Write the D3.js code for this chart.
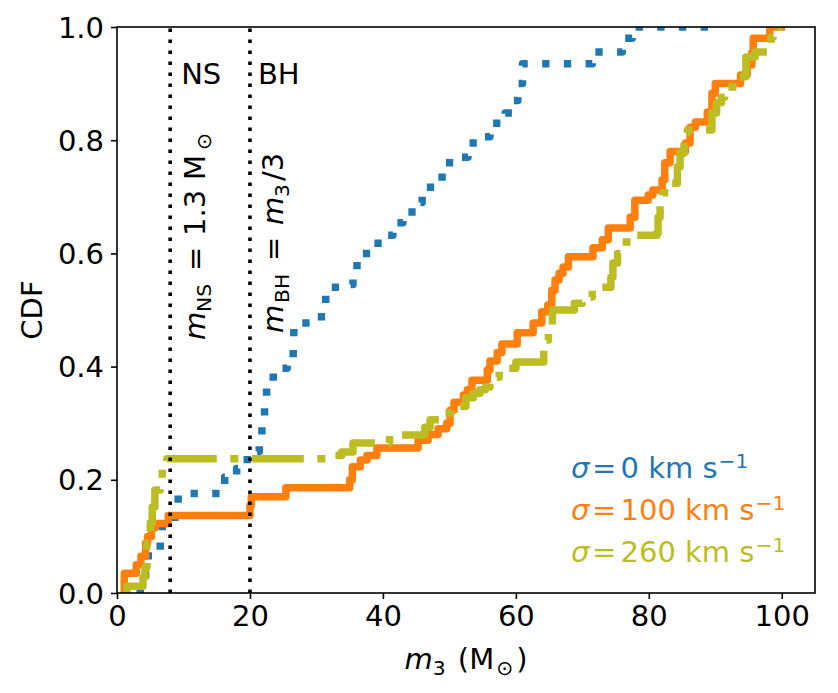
<!DOCTYPE html>
<html>
<head>
<meta charset="utf-8">
<script src="https://cdn.jsdelivr.net/npm/d3@7"></script>
<style>
  body { margin: 0; background: #fff; }
  svg { display: block; }
  text { font-family: "DejaVu Sans", sans-serif; fill: #000; }
</style>
</head>
<body>
<svg id="chart" width="838" height="693"></svg>
<script>
// ---- data ----
const xTicks = [0, 20, 40, 60, 80, 100];
const yTicks = [0, 0.2, 0.4, 0.6, 0.8, 1.0];
const vlineNS = 8;
const vlineBH = 20;

// sigma = 0 km/s (step rises at m3, new level cdf)
const m3Sigma0 = [3.2, 3.5, 4.3, 4.7, 6.5, 6.8, 8.7, 9.2, 16.2, 18.0, 19.6, 21.4, 21.8, 22.2, 22.5,
  23.5, 25.6, 26.5, 26.6, 29.0, 31.3, 31.4, 34.3, 35.5, 36.1, 38.1, 40.0, 41.5, 43.0, 45.3,
  45.9, 48.3, 48.9, 51.6, 52.8, 55.2, 56.1, 58.4, 59.6, 60.3, 61.0, 71.5, 76.0, 77.5, 89.0];
const cdfSigma0 = [0, 0.02, 0.05, 0.075, 0.09, 0.124, 0.141, 0.176, 0.205, 0.22, 0.25, 0.265, 0.30, 0.335, 0.372,
  0.397, 0.415, 0.44, 0.477, 0.488, 0.50, 0.54, 0.545, 0.567, 0.60, 0.618, 0.632, 0.654, 0.673, 0.69,
  0.717, 0.726, 0.76, 0.77, 0.795, 0.806, 0.83, 0.848, 0.87, 0.90, 0.935, 0.956, 0.98, 1.0, 1.0];

// sigma = 100 km/s
const m3Sigma100 = [1.0, 1.1, 2.9, 3.6, 4.3, 4.6, 5.2, 5.7, 7.7, 20.0, 20.2, 25.4, 35.0, 35.4, 36.6,
  37.6, 39.1, 45.3, 46.8, 48.3, 49.6, 50.1, 50.7, 52.1, 52.7, 53.4, 55.7, 56.1, 57.2, 57.9,
  60.2, 62.6, 63.9, 64.8, 65.4, 65.9, 66.5, 67.1, 67.9, 71.6, 73.0, 73.9, 77.2, 77.9, 79.9,
  80.6, 82.0, 82.4, 83.2, 85.5, 86.2, 87.0, 88.8, 89.5, 90.0, 93.8, 94.8, 95.5, 95.7, 98.2, 100.5];
const cdfSigma100 = [0, 0.035, 0.05, 0.065, 0.088, 0.10, 0.115, 0.123, 0.137, 0.155, 0.17, 0.186, 0.20, 0.223, 0.235,
  0.243, 0.256, 0.27, 0.28, 0.29, 0.30, 0.323, 0.337, 0.35, 0.359, 0.376, 0.394, 0.41, 0.425, 0.44,
  0.46, 0.477, 0.497, 0.509, 0.535, 0.553, 0.565, 0.576, 0.594, 0.61, 0.624, 0.645, 0.664, 0.694, 0.703,
  0.712, 0.73, 0.76, 0.78, 0.795, 0.823, 0.832, 0.85, 0.883, 0.90, 0.915, 0.933, 0.955, 0.98, 1.0, 1.0];

// sigma = 260 km/s
const m3Sigma260 = [1.2, 1.5, 3.9, 4.2, 4.5, 5.0, 5.3, 5.7, 6.5, 6.8, 7.5, 31.6, 33.8, 35.5, 41.0,
  46.3, 47.1, 49.0, 50.3, 52.5, 53.6, 54.6, 55.4, 56.1, 56.6, 57.5, 60.0, 64.2, 64.6, 64.9,
  65.5, 68.8, 70.0, 71.5, 74.3, 74.6, 75.3, 75.9, 78.0, 81.2, 81.4, 81.7, 82.1, 83.3, 84.3,
  84.7, 85.3, 85.8, 89.5, 90.2, 90.9, 91.4, 93.5, 94.6, 96.0, 97.8, 98.4, 98.7, 99.3, 100.0];
const cdfSigma260 = [0, 0.012, 0.028, 0.045, 0.088, 0.124, 0.152, 0.182, 0.194, 0.223, 0.237, 0.243, 0.249, 0.265, 0.279,
  0.293, 0.306, 0.318, 0.33, 0.345, 0.353, 0.359, 0.364, 0.371, 0.381, 0.397, 0.408, 0.43, 0.447, 0.473,
  0.50, 0.512, 0.523, 0.54, 0.558, 0.583, 0.60, 0.62, 0.632, 0.636, 0.664, 0.70, 0.707, 0.724, 0.753,
  0.777, 0.813, 0.818, 0.848, 0.866, 0.876, 0.894, 0.912, 0.947, 0.956, 0.963, 0.982, 0.995, 1.0, 1.0];

const legendLabels = ["0", "100", "260"];

// ---- layout ----
const padL = 117, padR = 815, padT = 27, padB = 593;
const fs = 29;
const fsSub = fs * 0.7;

const svg = d3.select("#chart");
const x = d3.scaleLinear().domain([0, 105]).range([padL, padR]);
const y = d3.scaleLinear().domain([0, 1]).range([padB, padT]);

svg.append("defs").append("clipPath").attr("id", "plotclip")
  .append("rect").attr("x", padL).attr("y", padT)
  .attr("width", padR - padL).attr("height", padB - padT);

const plot = svg.append("g").attr("clip-path", "url(#plotclip)");

const line = d3.line()
  .x(d => x(d[0]))
  .y(d => y(d[1]))
  .curve(d3.curveStepAfter);

const series = [
  {m: m3Sigma0, c: cdfSigma0, color: "#1f77b4", dash: "7.3,14.4"},
  {m: m3Sigma100, c: cdfSigma100, color: "#ff7f0e", dash: null},
  {m: m3Sigma260, c: cdfSigma260, color: "#bcbd22", dash: "52,13.5,8,13.5"}
];

series.forEach(s => {
  const pts = s.m.map((v, i) => [v, s.c[i]]);
  plot.append("path")
    .attr("d", line(pts))
    .attr("fill", "none")
    .attr("stroke", s.color)
    .attr("stroke-width", 7.5)
    .attr("stroke-linejoin", "round")
    .attr("stroke-dasharray", s.dash);
});

// vertical dotted lines
[vlineNS, vlineBH].forEach(v => {
  plot.append("line")
    .attr("x1", x(v)).attr("x2", x(v))
    .attr("y1", padB).attr("y2", padT)
    .attr("stroke", "#000")
    .attr("stroke-width", 3.6)
    .attr("stroke-dasharray", "3.6,7.4");
});

// axes
const xAxis = d3.axisBottom(x).tickValues(xTicks).tickSize(6).tickPadding(6).tickFormat(d3.format("d"));
const yAxis = d3.axisLeft(y).tickValues(yTicks).tickSize(6).tickPadding(7).tickFormat(d3.format(".1f"));

const gx = svg.append("g").attr("transform", `translate(0,${padB})`).call(xAxis);
const gy = svg.append("g").attr("transform", `translate(${padL},0)`).call(yAxis);
[gx, gy].forEach(g => {
  g.select(".domain").remove();
  g.selectAll(".tick line").attr("stroke", "#000").attr("stroke-width", 1.6);
  g.selectAll(".tick text").attr("font-size", fs).attr("font-family", "DejaVu Sans").attr("fill", "#000");
});
gy.selectAll(".tick text").attr("dy", "0.35em");

// frame
svg.append("rect")
  .attr("x", padL).attr("y", padT)
  .attr("width", padR - padL).attr("height", padB - padT)
  .attr("fill", "none").attr("stroke", "#000").attr("stroke-width", 1.6);

// axis labels
const xl = svg.append("text")
  .attr("x", (padL + padR) / 2).attr("y", 669)
  .attr("text-anchor", "middle").attr("font-size", fs);
xl.append("tspan").attr("font-style", "italic").text("m");
xl.append("tspan").attr("font-size", fsSub).attr("dy", 6).text("3");
xl.append("tspan").attr("dy", -6).attr("dx", 3).text(" (M");
xl.append("tspan").attr("font-size", fsSub).attr("dy", 6).attr("dx", 2).text("\u2299");
xl.append("tspan").attr("dy", -6).attr("dx", 3).text(")");

svg.append("text")
  .attr("transform", `translate(42,${(padT + padB) / 2}) rotate(-90)`)
  .attr("text-anchor", "middle").attr("font-size", fs)
  .text("CDF");

// NS / BH labels
svg.append("text").attr("x", x(vlineNS) + 11).attr("y", 84).attr("font-size", fs).text("NS");
svg.append("text").attr("x", x(vlineBH) + 8).attr("y", 84).attr("font-size", fs).text("BH");

// rotated annotations: pieces placed along the text direction
function mathPieces(sel, pieces) {
  pieces.forEach(p => {
    const t = sel.append("tspan").attr("x", p.at).attr("y", p.sub ? 6 : 0).text(p.s);
    if (p.sub) t.attr("font-size", fsSub);
    if (p.it) t.attr("font-style", "italic");
  });
}

const tNS = svg.append("text")
  .attr("transform", `translate(${x(vlineNS) + 35},340) rotate(-90)`)
  .attr("font-size", fs);
mathPieces(tNS, [
  {s: "m", at: 0, it: true},
  {s: "NS", at: 28, sub: true},
  {s: "=", at: 69},
  {s: "1.3", at: 104},
  {s: "M", at: 160},
  {s: "\u2299", at: 190, sub: true}
]);

const tBH = svg.append("text")
  .attr("transform", `translate(${x(vlineBH) + 33},333) rotate(-90)`)
  .attr("font-size", fs);
mathPieces(tBH, [
  {s: "m", at: 0, it: true},
  {s: "BH", at: 30, sub: true},
  {s: "=", at: 72},
  {s: "m", at: 108, it: true},
  {s: "3", at: 136, sub: true},
  {s: "/3", at: 152}
]);

// legend text
series.forEach((s, i) => {
  const t = svg.append("text")
    .attr("x", 571).attr("y", 478 + i * 42)
    .attr("font-size", fs).style("fill", s.color);
  t.append("tspan").attr("font-style", "italic").text("\u03c3");
  t.append("tspan").attr("dx", 2.6).text("=");
  t.append("tspan").attr("dx", 4.2).text(legendLabels[i] + " km s");
  t.append("tspan").attr("font-size", fsSub).attr("dy", -10).attr("dx", 1).text("\u22121");
});
</script>
</body>
</html>
